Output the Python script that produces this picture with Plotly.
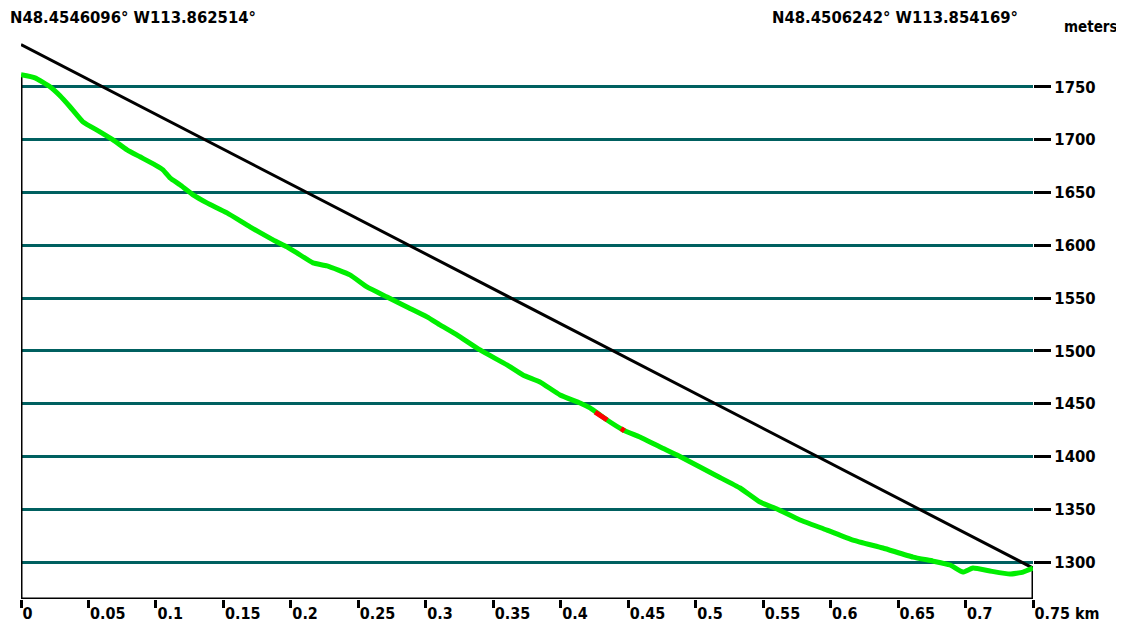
import plotly.graph_objects as go

# ---- data ----
dist_km = [0.0, 0.0104, 0.0215, 0.0289, 0.0363, 0.0459, 0.0585, 0.0682, 0.0786, 0.0882,
           0.0993, 0.1052, 0.1104, 0.1178, 0.1275, 0.1378, 0.1527, 0.1697, 0.1868, 0.1971,
           0.2045, 0.2164, 0.2268, 0.2438, 0.2564, 0.2713, 0.2861, 0.3009, 0.3105, 0.3231,
           0.3402, 0.3602, 0.3720, 0.3846, 0.3995, 0.4143, 0.4217, 0.4291, 0.4343, 0.4462,
           0.4587, 0.4736, 0.4862, 0.5032, 0.5158, 0.5329, 0.5477, 0.5603, 0.5773, 0.5973,
           0.6166, 0.6388, 0.6611, 0.6759, 0.6885, 0.6981, 0.7055, 0.7181, 0.7329, 0.7426, 0.75]
elev_m = [1761.4, 1758.5, 1750.0, 1741.5, 1731.1, 1716.8, 1707.4, 1699.8, 1690.3, 1683.7,
          1676.1, 1671.4, 1663.8, 1657.2, 1647.7, 1640.1, 1630.6, 1617.4, 1605.1, 1598.4,
          1592.7, 1583.3, 1580.4, 1571.9, 1560.5, 1551.0, 1541.5, 1532.1, 1524.5, 1515.1,
          1500.8, 1486.6, 1477.1, 1470.5, 1458.2, 1450.6, 1445.9, 1439.3, 1434.5, 1425.1,
          1418.4, 1409.0, 1401.4, 1390.0, 1381.5, 1370.1, 1356.8, 1350.2, 1339.8, 1330.3,
          1320.8, 1313.3, 1304.7, 1300.9, 1297.2, 1290.5, 1294.3, 1291.5, 1288.6, 1290.5, 1294.3]

steep_km = [0.4255, 0.4300, 0.4344, None, 0.4447, 0.4472]
steep_m = [1442.0, 1438.2, 1434.5, None, 1426.4, 1424.2]

grade_km = [0.0, 0.75]
grade_m = [1790.0, 1294.3]

frame_km = [0.0, 0.0, 0.75, 0.75]
frame_m = [1761.4, 1265.0, 1265.0, 1294.3]

x_ticks = [0, 0.05, 0.1, 0.15, 0.2, 0.25, 0.3, 0.35, 0.4, 0.45, 0.5, 0.55, 0.6, 0.65, 0.7, 0.75]
x_labels = ["0", "0.05", "0.1", "0.15", "0.2", "0.25", "0.3", "0.35", "0.4", "0.45",
            "0.5", "0.55", "0.6", "0.65", "0.7", "0.75 km"]
y_ticks = [1300, 1350, 1400, 1450, 1500, 1550, 1600, 1650, 1700, 1750]

start_label = "N48.4546096° W113.862514°"
end_label = "N48.4506242° W113.854169°"
unit_label = "meters"

FONT = "DejaVu Sans Condensed, Liberation Sans Narrow, DejaVu Sans, sans-serif"

fig = go.Figure()
fig.add_trace(go.Scatter(x=frame_km, y=frame_m, mode="lines",
                         line=dict(color="black", width=3), cliponaxis=False,
                         hoverinfo="skip", showlegend=False))
fig.add_trace(go.Scatter(x=grade_km, y=grade_m, mode="lines",
                         line=dict(color="black", width=3), cliponaxis=False,
                         hoverinfo="skip", showlegend=False))
fig.add_trace(go.Scatter(x=dist_km, y=elev_m, mode="lines",
                         line=dict(color="#00ee00", width=5, shape="spline", smoothing=0.4),
                         cliponaxis=False, showlegend=False))
fig.add_trace(go.Scatter(x=steep_km, y=steep_m, mode="lines",
                         line=dict(color="#ff0000", width=5),
                         cliponaxis=False, showlegend=False))

# page body has an 8px margin, so the figure is sized/offset to compensate
fig.update_layout(
    width=1116, height=620,
    margin=dict(l=13, r=91, t=26, b=29),
    paper_bgcolor="white", plot_bgcolor="white",
    font=dict(family=FONT, size=16, color="black", weight="bold"),
    xaxis=dict(range=[0, 0.75], tickvals=x_ticks, ticktext=x_labels,
               showgrid=False, zeroline=False, showline=False, automargin=False,
               ticks="outside", ticklen=8, tickwidth=3, tickcolor="black",
               ticklabelposition="outside right",
               tickfont=dict(family=FONT, size=16, weight="bold")),
    yaxis=dict(range=[1265, 1800], tickvals=y_ticks, side="right",
               showgrid=True, gridcolor="#006060", gridwidth=2.5,
               zeroline=False, showline=False, automargin=False,
               ticks="outside", ticklen=17, tickwidth=3, tickcolor="black",
               tickfont=dict(family=FONT, size=16.5, weight="bold")),
    annotations=[
        dict(text=start_label, xref="paper", yref="paper", x=-0.0128, y=1.029,
             xanchor="left", yanchor="middle", showarrow=False,
             font=dict(family=FONT, size=16.5, weight="bold")),
        dict(text=end_label, xref="paper", yref="paper", x=0.987, y=1.029,
             xanchor="right", yanchor="middle", showarrow=False,
             font=dict(family=FONT, size=16.5, weight="bold")),
        dict(text=unit_label, xref="paper", yref="paper", x=1.0287, y=1.013,
             xanchor="left", yanchor="middle", showarrow=False,
             font=dict(family=FONT, size=15, weight="bold")),
    ],
)

fig.write_html("out.html")
